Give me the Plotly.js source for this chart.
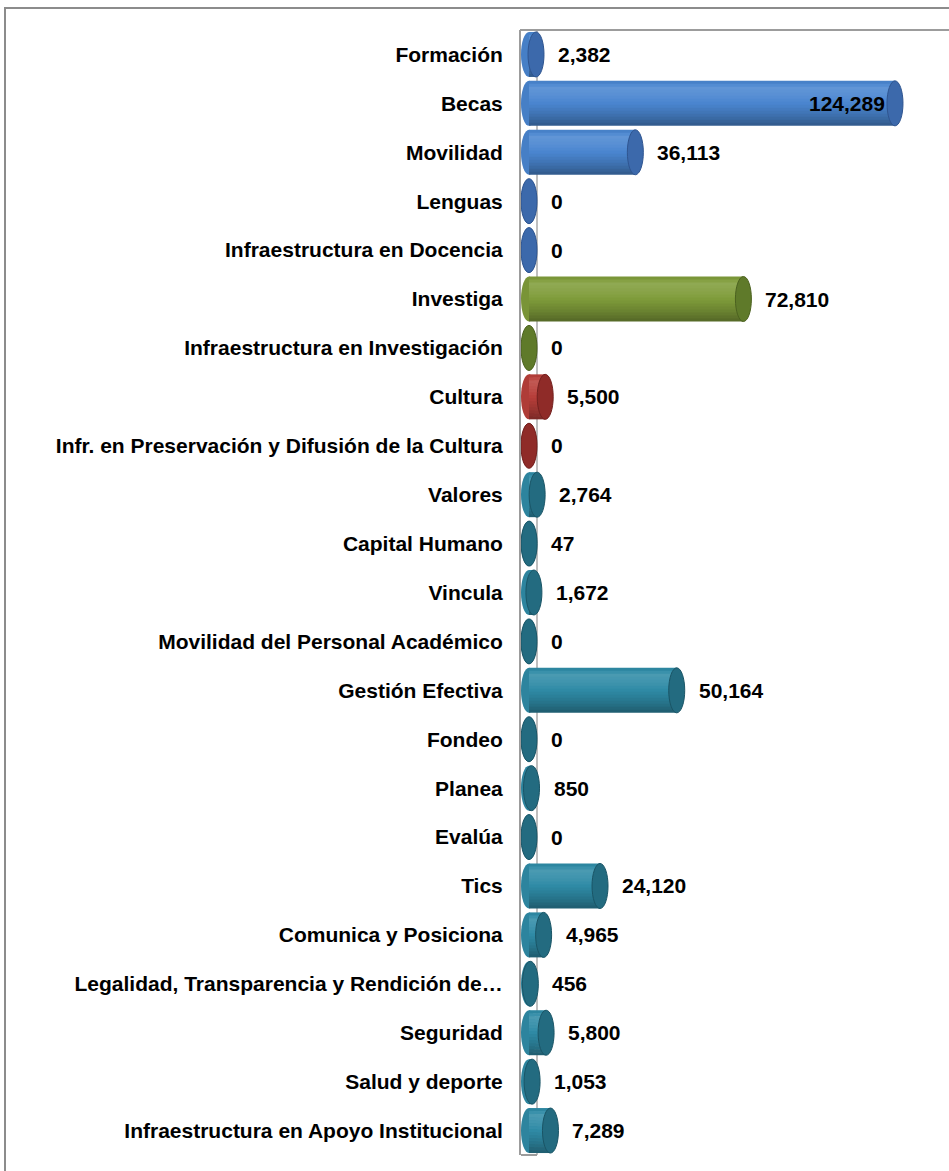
<!DOCTYPE html>
<html>
<head>
<meta charset="utf-8">
<script src="https://cdn.plot.ly/plotly-3.0.1.min.js"></script>
<style>
  html, body { margin: 0; padding: 0; background: #ffffff; overflow: hidden; }
  #wrap { position: relative; width: 949px; height: 1171px; }
  #chart { position: absolute; left: 0; top: 0; width: 949px; height: 1171px; z-index: 1; }
  .ln { position: absolute; pointer-events: none; z-index: 10; background: #8c8c8c; }
</style>
</head>
<body>
<div id="wrap">
  <div id="chart"></div>
  <div class="ln" style="left:4px; top:7px; width:945px; height:2px;"></div>
  <div class="ln" style="left:4px; top:7px; width:2px; height:1164px;"></div>
  <div class="ln" style="left:520px; top:29px; width:429px; height:2px; background:#9c9c9c;"></div>
</div>
<script>
// ---- data ----
const categories = [
  "Formación", "Becas", "Movilidad", "Lenguas", "Infraestructura en Docencia",
  "Investiga", "Infraestructura en Investigación",
  "Cultura", "Infr. en Preservación y Difusión de la Cultura",
  "Valores", "Capital Humano", "Vincula", "Movilidad del Personal Académico",
  "Gestión Efectiva", "Fondeo", "Planea", "Evalúa", "Tics",
  "Comunica y Posiciona", "Legalidad, Transparencia y Rendición de…",
  "Seguridad", "Salud y deporte", "Infraestructura en Apoyo Institucional"
];
const values = [
  2382, 124289, 36113, 0, 0,
  72810, 0,
  5500, 0,
  2764, 47, 1672, 0,
  50164, 0, 850, 0, 24120,
  4965, 456,
  5800, 1053, 7289
];
const groups = [
  "Docencia", "Docencia", "Docencia", "Docencia", "Docencia",
  "Investigación", "Investigación",
  "Cultura", "Cultura",
  "Apoyo", "Apoyo", "Apoyo", "Apoyo", "Apoyo", "Apoyo", "Apoyo", "Apoyo", "Apoyo",
  "Apoyo", "Apoyo", "Apoyo", "Apoyo", "Apoyo"
];

// ---- styles ----
const palette = {
  "Docencia":      { body: "#4A86D0", cap: "#3C69AB", edge: "#2F5590" },
  "Investigación": { body: "#7F9C3A", cap: "#5F7A2A", edge: "#4C6220" },
  "Cultura":       { body: "#B83F3A", cap: "#8F2B28", edge: "#72201E" },
  "Apoyo":         { body: "#2F8BA6", cap: "#236B80", edge: "#1A5566" }
};
function hex2rgb(h) {
  return [parseInt(h.slice(1,3),16), parseInt(h.slice(3,5),16), parseInt(h.slice(5,7),16)];
}
function shade(h, f) {
  const c = hex2rgb(h).map(v => f >= 1 ? v + (255 - v) * (f - 1) : v * f);
  return "rgb(" + c.map(v => Math.round(Math.max(0, Math.min(255, v)))).join(",") + ")";
}
// cylinder brightness profile (top -> bottom)
const prof = [[0, 0.92], [0.16, 1.13], [0.35, 1.07], [0.55, 0.97], [0.78, 0.83], [1.0, 0.66]];
function brightness(t) {
  for (let k = 1; k < prof.length; k++) {
    if (t <= prof[k][0]) {
      const a = prof[k-1], b = prof[k];
      return a[1] + (b[1] - a[1]) * (t - a[0]) / (b[0] - a[0]);
    }
  }
  return prof[prof.length - 1][1];
}

const BAR_H = 0.92;
const NB = 15;
const traces = [];
for (let k = 0; k < NB; k++) {
  const t = (k + 0.5) / NB;
  const f = brightness(t);
  const extra = k < NB - 1 ? 0.012 : 0;
  traces.push({
    type: "bar", orientation: "h", y: categories, x: values,
    offset: -BAR_H / 2 + k * BAR_H / NB, width: BAR_H / NB + extra,
    marker: { color: groups.map(g => shade(palette[g].body, f)), line: { width: 0 } },
    hoverinfo: "skip", showlegend: false
  });
}

const shapes = [];
const PL = 521, PW = 428, PT = 30, PH = 1125;
const px = x => (x - PL) / PW;
const wall = { color: "#9c9c9c", width: 2 };
// back wall edge and floor of the plot area
shapes.push({ type: "line", xref: "paper", yref: "paper", x0: px(537), x1: px(537), y0: 0, y1: 1, line: { color: "#aaaaaa", width: 1.5 }, layer: "below" });
shapes.push({ type: "line", xref: "paper", yref: "paper", x0: 0, x1: px(537), y0: 0, y1: 0, line: wall, layer: "below" });
// cylinder ends
values.forEach((v, i) => {
  const p = palette[groups[i]];
  shapes.push({ type: "circle", xref: "x", yref: "y", xsizemode: "pixel", xanchor: 0,
    x0: -8, x1: 8, y0: i - BAR_H / 2, y1: i + BAR_H / 2,
    fillcolor: shade(p.body, 0.95), line: { width: 0 }, layer: "below" });
  shapes.push({ type: "circle", xref: "x", yref: "y", xsizemode: "pixel", xanchor: v,
    x0: -8, x1: 8, y0: i - BAR_H / 2, y1: i + BAR_H / 2,
    fillcolor: p.cap, line: { color: p.edge, width: 1 }, layer: "above" });
});

const maxV = Math.max(...values);
const annotations = values.map((v, i) => {
  const inside = v > 0.85 * maxV;
  return {
    x: v, y: categories[i], xref: "x", yref: "y",
    text: v.toLocaleString("en-US"), showarrow: false,
    xanchor: inside ? "right" : "left", xshift: inside ? -8 : 20,
    font: { family: "Liberation Sans, Arial, sans-serif", size: 21, color: "#000000", weight: "bold" }
  };
});

const layout = {
  width: 949, height: 1171,
  margin: { l: PL, r: 0, t: PT, b: 1171 - PT - PH, pad: 0 },
  paper_bgcolor: "rgba(255,255,255,0)", plot_bgcolor: "rgba(255,255,255,0)",
  barmode: "overlay", showlegend: false,
  font: { family: "Liberation Sans, Arial, sans-serif", color: "#000000" },
  xaxis: { range: [-2717, 142630], showgrid: false, zeroline: false, showticklabels: false, ticks: "", showline: false, fixedrange: true },
  yaxis: {
    type: "category", range: [categories.length - 0.5, -0.5],
    showgrid: false, zeroline: false,
    showline: true, linecolor: "#9c9c9c", linewidth: 2,
    ticks: "outside", ticklen: 12, tickcolor: "rgba(0,0,0,0)",
    tickfont: { family: "Liberation Sans, Arial, sans-serif", size: 21, color: "#000000", weight: "bold" },
    fixedrange: true
  },
  shapes: shapes, annotations: annotations
};

Plotly.newPlot("chart", traces, layout, { displayModeBar: false, staticPlot: true });
</script>
</body>
</html>
